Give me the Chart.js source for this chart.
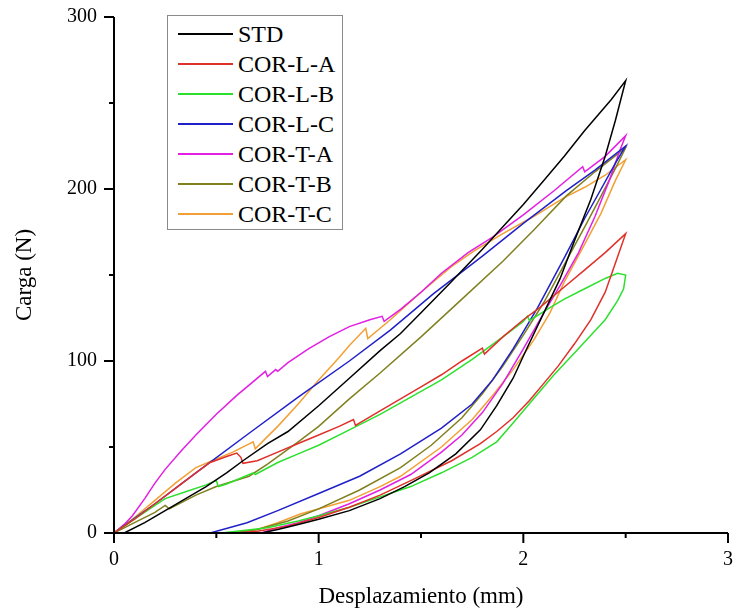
<!DOCTYPE html>
<html>
<head>
<meta charset="utf-8">
<script src="https://cdn.jsdelivr.net/npm/chart.js@4.4.1/dist/chart.umd.min.js"></script>
<style>
  html, body { margin: 0; padding: 0; background: #fff; }
  #wrap { position: relative; width: 735px; height: 611px; }
  #legend { position: absolute; left: 167px; top: 15px; width: 176px; height: 215px;
    border: 1px solid #8a8a8a; box-sizing: border-box; background: #fff;
    font-family: 'Liberation Serif', 'Times New Roman', serif; font-size: 24px; color: #000; }
  .row { position: absolute; left: 0; height: 30px; width: 100%; }
  .row .ln { position: absolute; left: 10px; top: 14px; width: 55px; height: 2px; }
  .row .tx { position: absolute; left: 70px; top: 0; line-height: 30px; white-space: nowrap; }
</style>
</head>
<body>
<div id="wrap">
  <canvas id="c" width="735" height="611"></canvas>
  <div id="legend"></div>
</div>
<script>
// ---- data (x: Desplazamiento mm, y: Carga N), loading then unloading ----
const labels = ['STD', 'COR-L-A', 'COR-L-B', 'COR-L-C', 'COR-T-A', 'COR-T-B', 'COR-T-C'];
const colors = ['#000000', '#e0302a', '#2ee02e', '#2020c8', '#e21fe2', '#80801e', '#f2a035'];

const std_x = [0.05,0.15,0.25,0.35,0.45,0.55,0.63,0.75,0.85,1.0,1.15,1.3,1.4,1.5,1.64,1.8,1.9,2.0,2.1,2.2,2.3,2.43,2.5,
               2.45,2.4,2.33,2.25,2.18,2.1,2.02,1.95,1.87,1.79,1.67,1.54,1.42,1.3,1.15,1.0,0.9,0.8,0.72];
const std_y = [0,6,13,20,27,35,42,52,59,74,90,106,116,128,145,165,178,191,205,219,234,252,263,
               240,219,194,170,148,128,108,90,74,60,46,35,27,20,13,8,5,2,0];

const lA_x = [0,0.1,0.2,0.3,0.4,0.47,0.55,0.6,0.62,0.63,0.7,0.8,0.9,1.0,1.1,1.17,1.18,1.3,1.4,1.5,1.6,1.7,1.8,1.81,1.9,2.0,2.08,2.2,2.3,2.4,2.5,
              2.45,2.4,2.33,2.25,2.17,2.1,2.03,1.95,1.87,1.79,1.65,1.46,1.3,1.15,1.0,0.85,0.7,0.6];
const lA_y = [0,8,17,26,35,41,44.5,46.5,44,40.5,42,47,52,57,62,66,62.5,71,78,85,92,100,107.5,104,114,124,131,143,153,163,174,
              157,140,124,110,97,87,77,67,59,52,42,31,22,15,9,4,1,0];

const lB_x = [0,0.1,0.2,0.25,0.35,0.45,0.5,0.51,0.55,0.68,0.69,0.8,0.9,1.0,1.15,1.3,1.45,1.6,1.75,1.9,2.0,2.02,2.03,2.13,2.2,2.3,2.4,2.46,2.5,
              2.49,2.46,2.4,2.33,2.26,2.15,2.05,1.95,1.87,1.75,1.6,1.45,1.3,1.15,1.0,0.9,0.75,0.6,0.52];
const lB_y = [0,8,16,20,24,28,30.5,27,28.5,35,34,41,46,51,60,69,79,89,101,114,123,126,123.5,131,136,142,148,151,150,
              142,135,124,115,106,92,78,64,53,44,35,27,21,15,10,7,3,1,0];

const lC_x = [0,0.2,0.4,0.66,0.9,1.15,1.35,1.56,1.8,2.0,2.21,2.35,2.5,
              2.45,2.38,2.3,2.2,2.07,1.95,1.85,1.75,1.6,1.4,1.2,1.0,0.8,0.65,0.47];
const lC_y = [0,17,35,58,79,100,118,139,161,180,199,211,225,
              215,200,183,160,131,107,89,75,61,46,33,23,13,6,0];

const tA_x = [0,0.05,0.09,0.15,0.2,0.25,0.33,0.4,0.5,0.6,0.66,0.74,0.75,0.79,0.8,0.85,0.95,1.05,1.15,1.25,1.31,1.32,1.4,1.5,1.6,1.73,1.85,2.0,2.15,2.29,2.3,2.4,2.5,
              2.47,2.42,2.35,2.27,2.18,2.1,2.0,1.9,1.8,1.7,1.6,1.45,1.3,1.15,1.0,0.9,0.8,0.72];
const tA_y = [0,5,10,20,29,37,48,57,69,80,86,94,91,95,94,99,107,114,120,124,126,123,130,140,151,163,172,185,199,213,210,219,231,
              222,205,184,163,144,128,107,87,70,57,47,34,25,17,10,6,3,0];

const tB_x = [0,0.1,0.2,0.25,0.27,0.4,0.5,0.66,0.75,0.9,1.0,1.15,1.3,1.5,1.7,1.9,2.05,2.21,2.35,2.5,
              2.45,2.38,2.3,2.2,2.1,2.0,1.9,1.8,1.7,1.55,1.4,1.2,1.0,0.85,0.7,0.58];
const tB_y = [0,6,12,16,14,22,27,33,40,53,62,78,93,114,136,158,176,196,210,224,
              212,196,178,156,134,115,97,81,67,51,38,25,14,7,2,0];

const tC_x = [0,0.1,0.2,0.3,0.4,0.48,0.58,0.68,0.69,0.8,0.9,1.0,1.1,1.15,1.23,1.24,1.35,1.5,1.65,1.76,1.9,2.05,2.2,2.3,2.4,2.5,
              2.45,2.38,2.3,2.2,2.13,2.05,1.95,1.85,1.75,1.6,1.4,1.3,1.15,0.91,0.8,0.7,0.62];
const tC_y = [0,9,19,29,38,42,47,53,49,62,75,89,102,109,119,113,124,140,155,164,174,184,195,201,208,217,
              205,186,168,146,128,112,95,80,66,50,33,27,19,11,6,2,0];

const xTicks = [0, 1, 2, 3];
const yTicks = [0, 100, 200, 300];

// ---- build ----
const seriesX = [std_x, lA_x, lB_x, lC_x, tA_x, tB_x, tC_x];
const seriesY = [std_y, lA_y, lB_y, lC_y, tA_y, tB_y, tC_y];
const FONT = "'Liberation Serif', 'Times New Roman', serif";
Chart.defaults.font.family = FONT;
Chart.defaults.color = '#000';

const datasets = labels.map((lab, i) => ({
  label: lab,
  data: seriesX[i].map((x, j) => ({ x: x, y: seriesY[i][j] })),
  borderColor: colors[i],
  backgroundColor: colors[i],
  borderWidth: 1.5,
  pointRadius: 0,
  showLine: true,
  fill: false,
  tension: 0
}));

const axesPlugin = {
  id: 'axesPlugin',
  afterDraw(chart) {
    const ctx = chart.ctx, ca = chart.chartArea;
    const xs = chart.scales.x, ys = chart.scales.y;
    ctx.save();
    ctx.strokeStyle = '#000';
    ctx.lineWidth = 2;
    ctx.beginPath();
    ctx.moveTo(ca.left, ca.top); ctx.lineTo(ca.left, ca.bottom + 1);
    ctx.moveTo(ca.left - 1, ca.bottom); ctx.lineTo(ca.right, ca.bottom);
    for (let v = 0; v <= 300; v += 50) {
      const p = ys.getPixelForValue(v);
      const len = (v % 100 === 0) ? 10 : 5;
      ctx.moveTo(ca.left - len, p); ctx.lineTo(ca.left, p);
    }
    for (let k = 0; k <= 6; k++) {
      const v = k * 0.5;
      const p = xs.getPixelForValue(v);
      const len = (k % 2 === 0) ? 10 : 5;
      ctx.moveTo(p, ca.bottom); ctx.lineTo(p, ca.bottom + len);
    }
    ctx.stroke();
    ctx.restore();
  }
};

new Chart(document.getElementById('c'), {
  type: 'scatter',
  data: { datasets },
  options: {
    responsive: false,
    animation: false,
    layout: { padding: { top: 17, right: 7, left: 0, bottom: 0 } },
    plugins: { legend: { display: false }, tooltip: { enabled: false } },
    scales: {
      x: {
        type: 'linear', min: 0, max: 3,
        afterFit(s) { s.height = 78; s.paddingLeft = 0; s.paddingRight = 0; },
        afterBuildTicks(s) { s.ticks = xTicks.map(v => ({ value: v })); },
        grid: { display: false, drawTicks: false },
        border: { display: false },
        ticks: { padding: 15, color: '#000', font: { family: FONT, size: 20 } },
        title: { display: true, text: 'Desplazamiento (mm)', color: '#000',
                 font: { family: FONT, size: 23 }, padding: { top: 0, bottom: 0 } }
      },
      y: {
        type: 'linear', min: 0, max: 300,
        afterFit(s) { s.width = 114; s.paddingTop = 0; s.paddingBottom = 0; },
        afterBuildTicks(s) { s.ticks = yTicks.map(v => ({ value: v })); },
        grid: { display: false, drawTicks: false },
        border: { display: false },
        ticks: { padding: 17, color: '#000', font: { family: FONT, size: 20 } },
        title: { display: true, text: 'Carga (N)', color: '#000',
                 font: { family: FONT, size: 23 }, padding: { top: 11, bottom: 0 } }
      }
    }
  },
  plugins: [axesPlugin]
});

const lg = document.getElementById('legend');
labels.forEach((lab, i) => {
  const r = document.createElement('div');
  r.className = 'row';
  r.style.top = (3 + i * 30) + 'px';
  r.innerHTML = '<div class="ln" style="background:' + colors[i] + '"></div><div class="tx">' + lab + '</div>';
  lg.appendChild(r);
});
</script>
</body>
</html>
